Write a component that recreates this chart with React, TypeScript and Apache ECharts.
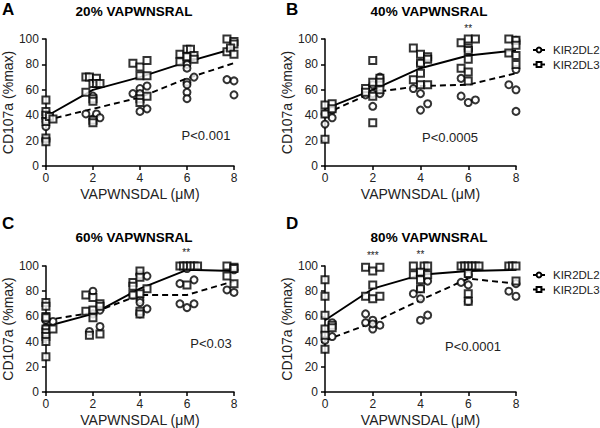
import React, { useEffect, useRef } from "react";
import * as echarts from "echarts";

const FONT = "'Liberation Sans', Arial, Helvetica, sans-serif";

const DOSES = [0, 2, 4, 6, 8];
const PANEL_LETTERS = ["A", "B", "C", "D"];
const PANEL_TITLES = ["20% VAPWNSRAL", "40% VAPWNSRAL", "60% VAPWNSRAL", "80% VAPWNSRAL"];
const P_VALUES = ["P<0.001", "P<0.0005", "P<0.03", "P<0.0001"];
const SERIES_NAMES = ["KIR2DL2", "KIR2DL3"];

// Panel A (20%)
const aCircles = [[0,38],[0,35],[0,31],[0,21],[0.15,39],[1.7,41],[2,55],[2,37],[2.15,41],[2.3,38],[3.7,57],[4,61],[4.3,63],[4,57],[4,43],[4.3,45],[6,80],[6,77],[6,66],[6,64],[6,58],[6,53],[6.3,70],[7.7,68],[8,67],[8,56]];
const aSquares = [[0,52],[0,43],[0,40],[0,35],[0,22],[0,19],[0.15,39],[0.3,37],[1.7,70],[1.7,58],[1.85,70],[2,65],[2,53],[2,51],[2,36],[2,34],[2.15,69],[2.15,65],[2.3,65],[3.7,81],[4,78],[4.3,83],[4,71],[4.3,71],[4,53],[4,50],[4.3,55],[5.7,88],[6,92],[6.15,92],[5.7,82],[6,86],[6.3,87],[6.3,84],[7.7,100],[8,98],[8,96],[7.7,90],[7.85,93],[8,88]];
const aMeanL2 = [36, 45, 54, 69, 81];
const aMeanL3 = [39, 60, 70, 82, 92.5];

// Panel B (40%)
const bCircles = [[0,41],[0,33],[0.3,44],[0.3,38],[1.7,56],[2,57],[2,47],[2,64],[2.3,57],[2.3,70],[3.7,61],[4,57],[4,44],[4.3,49],[4,81],[4.3,85],[5.7,69],[5.7,55],[6,50],[6.3,52],[6,92],[8,99],[8,76],[7.7,64],[8,60],[8,43]];
const bSquares = [[0,48],[0,41],[0,21],[0.3,49],[0.3,45],[1.7,61],[1.7,58],[2,83],[2,66],[2,55],[2,34],[2.3,69],[2.3,66],[2.3,60],[3.7,93],[4,88],[4,81],[4.3,86],[4.3,84],[3.7,68],[4,73],[4,64],[4.3,64],[5.7,97],[6,100],[6.3,100],[6,93],[6,91],[6,84],[5.7,77],[6,74],[6,67],[7.7,100],[8,99],[8,95],[7.7,89],[8,87],[8,80]];
const bMeanL2 = [41, 58, 63, 64, 73];
const bMeanL3 = [45, 60, 77, 87, 91];

// Panel C (60%)
const cCircles = [[0,57],[0,51],[0.3,56],[2,80],[2,62],[2.3,65],[1.85,48],[2.3,52],[3.7,77],[4,93],[4.3,92],[4,73],[4,71],[4,62],[4.3,66],[5.7,86],[6.3,89],[5.7,70],[6,67],[6.3,70],[6,98],[8,97],[7.7,81],[8,79]];
const cSquares = [[0,71],[0,68],[0,60],[0,59],[0,50],[0,47],[0,44],[0,40],[0,28],[0.3,50],[1.7,77],[1.7,64],[2,75],[2,65],[2,59],[2.3,70],[2.3,68],[1.85,45],[2.3,46],[3.7,87],[3.7,84],[4,96],[4,91],[4.3,82],[4,78],[3.7,77],[4,64],[4,62],[5.7,100],[5.85,100],[6,100],[6.15,100],[6.3,100],[6.45,100],[6,85],[7.7,100],[8,99],[7.7,92],[8,86],[8,98]];
const cMeanL2 = [57, 63, 77, 77, 88];
const cMeanL3 = [52, 62, 82, 97, 96];

// Panel D (80%)
const dCircles = [[0,41],[0.3,55],[0.3,44],[1.7,62],[1.7,55],[2,57],[2,50],[2.3,53],[2,54],[3.7,78],[4,74],[4.3,88],[4,57],[4.3,61],[4,82],[5.7,87],[6,93],[6,85],[6,72],[8,86],[7.7,80],[8,76]];
const dSquares = [[0,89],[0,76],[0,61],[0,50],[0,45],[0,34],[0.3,53],[0.3,51],[1.7,99],[2,96],[2.3,99],[2,85],[1.7,76],[2,74],[2.3,76],[3.7,100],[4.15,100],[4.3,100],[3.7,93],[4,95],[4,89],[4,82],[4.3,93],[5.7,100],[5.85,100],[6,100],[6.15,100],[6.3,100],[6.45,100],[6,94],[6,78],[6,72],[7.7,100],[7.85,100],[8,100],[8,88]];
const dMeanL2 = [41, 55, 73, 90, 86];
const dMeanL3 = [57, 82, 93, 96, 97];

const CIRCLES = [aCircles, bCircles, cCircles, dCircles];
const SQUARES = [aSquares, bSquares, cSquares, dSquares];
const MEANS_L2 = [aMeanL2, bMeanL2, cMeanL2, dMeanL2];
const MEANS_L3 = [aMeanL3, bMeanL3, cMeanL3, dMeanL3];

// significance marks: [panel, dose, label]
const STARS: [number, number, string][] = [[1, 6, "**"], [2, 6, "**"], [3, 2, "***"], [3, 4, "**"]];

const GRIDS = [
  { left: 43, top: 39, width: 191, height: 127 },
  { left: 325, top: 39, width: 191, height: 127 },
  { left: 43, top: 266, width: 191, height: 126 },
  { left: 325, top: 266, width: 191, height: 126 },
];

export default function App() {
  const ref = useRef<HTMLDivElement>(null);
  useEffect(() => {
    if (!ref.current) return;
    const chart = echarts.init(ref.current, undefined, { renderer: "svg" });
    const txt = "#222";
    const xAxis = GRIDS.map((_, i) => ({
      type: "value",
      gridIndex: i,
      min: 0,
      max: 8,
      interval: 2,
      name: "VAPWNSDAL (μM)",
      nameLocation: "middle",
      nameGap: 21,
      nameTextStyle: { fontSize: 14, color: txt, fontFamily: FONT, verticalAlign: "top" },
      axisLine: { show: true, onZero: false, lineStyle: { color: "#000", width: 1.5 } },
      axisTick: { show: true, length: 4, lineStyle: { color: "#000", width: 1.5 } },
      axisLabel: { fontSize: 12, color: txt, fontFamily: FONT, margin: 6 },
      splitLine: { show: false },
    }));
    const yAxis = GRIDS.map((_, i) => ({
      type: "value",
      gridIndex: i,
      min: 0,
      max: 100,
      interval: 20,
      name: "CD107a (%max)",
      nameLocation: "middle",
      nameGap: 21,
      nameTextStyle: { fontSize: 14, color: txt, fontFamily: FONT },
      axisLine: { show: true, onZero: false, lineStyle: { color: "#000", width: 1.5 } },
      axisTick: { show: true, length: 4, lineStyle: { color: "#000", width: 1.5 } },
      axisLabel: { fontSize: 12, color: txt, fontFamily: FONT, margin: 7 },
      splitLine: { show: false },
    }));
    const series: any[] = [
      {
        type: "line", name: SERIES_NAMES[0], xAxisIndex: 1, yAxisIndex: 1, data: [],
        symbol: "emptyCircle", symbolSize: 5, lineStyle: { color: "#000", width: 1.8 },
        itemStyle: { color: "#000", borderWidth: 1.2 },
      },
      {
        type: "line", name: SERIES_NAMES[1], xAxisIndex: 1, yAxisIndex: 1, data: [],
        symbol: "emptyRect", symbolSize: 5, lineStyle: { color: "#000", width: 1.8 },
        itemStyle: { color: "#000", borderWidth: 1.2 },
      },
    ];
    GRIDS.forEach((_, i) => {
      series.push({
        type: "line", name: `${SERIES_NAMES[0]} mean ${i}`, xAxisIndex: i, yAxisIndex: i,
        data: DOSES.map((d, k) => [d, MEANS_L2[i][k]]), symbol: "none",
        lineStyle: { color: "#000", width: 1.9, type: [6, 4] }, z: 3,
      });
      series.push({
        type: "line", name: `${SERIES_NAMES[1]} mean ${i}`, xAxisIndex: i, yAxisIndex: i,
        data: DOSES.map((d, k) => [d, MEANS_L3[i][k]]), symbol: "none",
        lineStyle: { color: "#000", width: 1.9 }, z: 3,
      });
      series.push({
        type: "scatter", name: `${SERIES_NAMES[0]} pts ${i}`, xAxisIndex: i, yAxisIndex: i,
        data: CIRCLES[i], symbol: "emptyCircle", symbolSize: 7, clip: false,
        itemStyle: { color: "#000", borderColor: "#000", borderWidth: 1.1 }, z: 4,
      });
      series.push({
        type: "scatter", name: `${SERIES_NAMES[1]} pts ${i}`, xAxisIndex: i, yAxisIndex: i,
        data: SQUARES[i], symbol: "emptyRect", symbolSize: 7, clip: false,
        itemStyle: { color: "#000", borderColor: "#000", borderWidth: 1.1 }, z: 4,
      });
    });
    const legendCommon = {
      orient: "vertical",
      data: SERIES_NAMES,
      itemWidth: 12,
      itemHeight: 6,
      itemGap: 0.5,
      padding: 0,
      selectedMode: false,
      textStyle: { fontSize: 11.5, lineHeight: 14, color: txt, fontFamily: FONT, padding: [0, 0, 0, 3] },
    };
    const graphic: any[] = [];
    const letterPos = [[2, 9], [286, 9], [2, 223], [286, 223]];
    const titlePos = [[134, 11], [429, 11], [134, 237], [429, 237]];
    const pPos = [[206, 135], [450, 137], [211, 343], [473, 346]];
    GRIDS.forEach((_, i) => {
      graphic.push({ type: "text", x: letterPos[i][0], y: letterPos[i][1],
        style: { text: PANEL_LETTERS[i], font: `bold 17px ${FONT}`, fill: "#000", align: "left", verticalAlign: "middle" } });
      graphic.push({ type: "text", x: titlePos[i][0], y: titlePos[i][1],
        style: { text: PANEL_TITLES[i], font: `bold 13.5px ${FONT}`, fill: "#000", align: "center", verticalAlign: "middle" } });
      graphic.push({ type: "text", x: pPos[i][0], y: pPos[i][1],
        style: { text: P_VALUES[i], font: `13px ${FONT}`, fill: txt, align: "center", verticalAlign: "middle" } });
    });
    const starY = [0, 28, 252, 255];
    STARS.forEach(([p, dose, label]) => {
      const g = GRIDS[p];
      const x = g.left + (dose / 8) * g.width;
      const y = p === 3 && dose === 4 ? 254 : starY[p];
      graphic.push({ type: "text", x, y,
        style: { text: label, font: `10px ${FONT}`, fill: txt, align: "center", verticalAlign: "middle" } });
    });
    chart.setOption({
      animation: false,
      backgroundColor: "#fff",
      textStyle: { fontFamily: FONT },
      grid: GRIDS.map((g) => ({ ...g, containLabel: false })),
      xAxis,
      yAxis,
      legend: [
        { ...legendCommon, left: 532, top: 43 },
        { ...legendCommon, left: 532, top: 268 },
      ],
      series,
      graphic,
    });
    return () => chart.dispose();
  }, []);
  return (
    <div
      ref={ref}
      style={{ position: "absolute", left: 0, top: 0, width: 600, height: 428, background: "#fff" }}
    />
  );
}
